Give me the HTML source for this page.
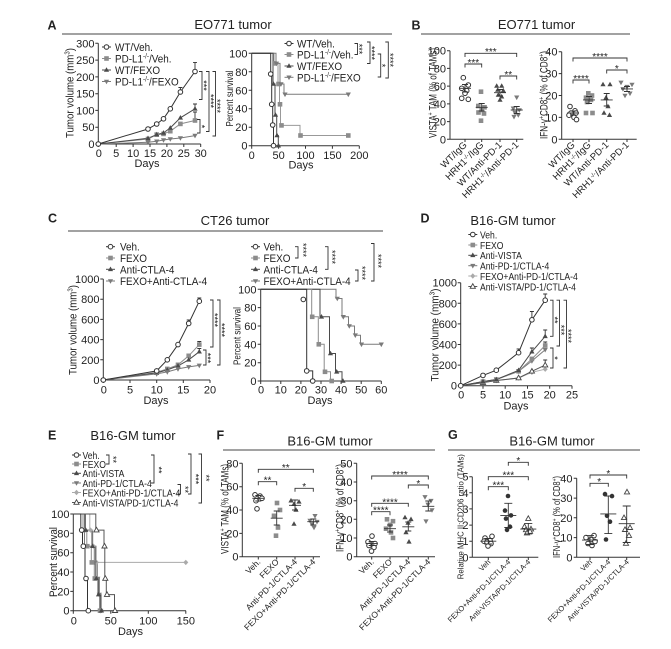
<!DOCTYPE html>
<html><head><meta charset="utf-8"><style>
html,body{margin:0;padding:0;background:#fff}
svg{display:block}
text{font-family:"Liberation Sans",Arial,sans-serif;fill:#222}
.ax{stroke:#333;stroke-width:1;fill:none}
.tk{font-size:11px}
.k{stroke:#333;stroke-width:0.9;fill:none}
.st{font-size:10px}
.sv{font-size:9px}
.cl{font-size:9.5px}
.cf{font-size:8.5px}
.cg{font-size:7.5px}
</style></head><body>
<svg width="671" height="649" viewBox="0 0 671 649" xmlns="http://www.w3.org/2000/svg">
<rect width="671" height="649" fill="#fff"/>
<defs>
<circle id="oc" r="2.3" fill="#fff" stroke="#333" stroke-width="1"/>
<rect id="sq" x="-2.3" y="-2.3" width="4.6" height="4.6" fill="#8c8c8c"/>
<path id="tr" d="M0,-2.8L2.6,1.8H-2.6Z" fill="#4a4a4a"/>
<path id="it" d="M0,2.8L2.6,-1.8H-2.6Z" fill="#7a7a7a"/>
<path id="di" d="M0,-2.7L2.5,0L0,2.7L-2.5,0Z" fill="#aaa"/>
<path id="ot" d="M0,-2.8L2.6,1.8H-2.6Z" fill="#fff" stroke="#444" stroke-width="0.9"/>
<circle id="fc" r="2.3" fill="#333"/>
</defs>

<!-- ================= PANEL A ================= -->
<text x="47.5" y="29.5" font-size="12.5" font-weight="bold">A</text>
<text x="233" y="29" font-size="13" text-anchor="middle">EO771 tumor</text>
<path d="M62,34H392" stroke="#444" stroke-width="1"/>

<!-- A left -->
<path class="ax" d="M98.3,43.3V144H200.7M95.3,43.3H98.3M95.3,60.1H98.3M95.3,76.9H98.3M95.3,93.7H98.3M95.3,110.4H98.3M95.3,127.2H98.3M95.3,144H98.3M98.3,144V147M116.2,144V147M133.1,144V147M150,144V147M166.9,144V147M183.8,144V147M200.7,144V147"/>
<g class="tk" text-anchor="end"><text x="94.5" y="47.3">300</text><text x="94.5" y="64.1">250</text><text x="94.5" y="80.9">200</text><text x="94.5" y="97.7">150</text><text x="94.5" y="114.4">100</text><text x="94.5" y="131.2">50</text><text x="94.5" y="148">0</text></g>
<g class="tk" text-anchor="middle"><text x="98.8" y="157">0</text><text x="116.2" y="157">5</text><text x="133.1" y="157">10</text><text x="150" y="157">15</text><text x="166.9" y="157">20</text><text x="183.8" y="157">25</text><text x="200.7" y="157">30</text></g>
<text x="147" y="167" class="tk" text-anchor="middle">Days</text>
<text transform="translate(73.5,93) rotate(-90)" font-size="11" text-anchor="middle" textLength="90" lengthAdjust="spacingAndGlyphs">Tumor volume (mm<tspan font-size="7" dy="-4">3</tspan><tspan dy="4">)</tspan></text>

<polyline fill="none" stroke="#8c8c8c" points="98.3,144 148,139 156.7,134.6 163.5,133.9 170.3,131.2 180.4,123.9 195,120.5"/>
<polyline fill="none" stroke="#7a7a7a" points="98.3,144 148,142.3 156.7,141.3 163.5,140 170.3,139 180.4,138 195,135.6"/>
<polyline fill="none" stroke="#4a4a4a" points="98.3,144 148,138.3 156.7,134.6 163.5,132.9 170.3,127.9 180.4,117.8 195,108.8"/>
<polyline fill="none" stroke="#333" points="98.3,144 148,129 156.7,124 163.5,118.8 170.3,108.8 180.4,92 195,71.5"/>
<path class="k" d="M195,71.5V62.4M193,62.4H197M180.4,92V87.5M178.4,87.5H182.4M195,120.5V112M193,112H197M195,108.8V104M193,104H197"/>
<g>
<use href="#sq" x="148" y="139"/><use href="#sq" x="156.7" y="134.6"/><use href="#sq" x="163.5" y="133.9"/><use href="#sq" x="170.3" y="131.2"/><use href="#sq" x="180.4" y="123.9"/><use href="#sq" x="195" y="120.5"/>
<use href="#it" x="148" y="142.3"/><use href="#it" x="156.7" y="141.3"/><use href="#it" x="163.5" y="140"/><use href="#it" x="170.3" y="139"/><use href="#it" x="180.4" y="138"/><use href="#it" x="195" y="135.6"/>
<use href="#tr" x="148" y="138.3"/><use href="#tr" x="156.7" y="134.6"/><use href="#tr" x="163.5" y="132.9"/><use href="#tr" x="170.3" y="127.9"/><use href="#tr" x="180.4" y="117.8"/><use href="#tr" x="195" y="108.8"/>
<use href="#oc" x="98.3" y="144"/><use href="#oc" x="148" y="129"/><use href="#oc" x="156.7" y="124"/><use href="#oc" x="163.5" y="118.8"/><use href="#oc" x="170.3" y="108.8"/><use href="#oc" x="180.4" y="92"/><use href="#oc" x="195" y="71.5"/>
</g>
<!-- legend A left -->
<path d="M102,47H111" stroke="#333"/><use href="#oc" x="106.5" y="47"/>
<path d="M102,58.5H111" stroke="#8c8c8c"/><use href="#sq" x="106.5" y="58.5"/>
<path d="M102,70H111" stroke="#4a4a4a"/><use href="#tr" x="106.5" y="70"/>
<path d="M102,81.5H111" stroke="#7a7a7a"/><use href="#it" x="106.5" y="81.5"/>
<g transform="translate(115,0) scale(0.9,1)" font-size="11">
<text x="0" y="51">WT/Veh.</text>
<text x="0" y="62.5">PD-L1<tspan font-size="7" dy="-4">-/-</tspan><tspan dy="4">/Veh.</tspan></text>
<text x="0" y="74">WT/FEXO</text>
<text x="0" y="85.5">PD-L1<tspan font-size="7" dy="-4">-/-</tspan><tspan dy="4">/FEXO</tspan></text>
</g>
<path class="k" d="M199,71.5H202V99.5H199M206,71.5H209V131.5H206M212.5,71.5H215.5V136H212.5M197,119.5H200V133H197"/>
<g class="sv" text-anchor="middle">
<text transform="translate(200.5,85.5) rotate(90)">***</text>
<text transform="translate(207.5,101) rotate(90)">****</text>
<text transform="translate(214,106) rotate(90)">****</text>
<text transform="translate(198.5,126.5) rotate(90)">*</text>
</g>

<!-- A right -->
<path class="ax" d="M251.7,53.3V145.7H359.3M248.7,53.3H251.7M248.7,71.8H251.7M248.7,90.3H251.7M248.7,108.7H251.7M248.7,127.2H251.7M248.7,145.7H251.7M251.7,145.7V148.7M278.6,145.7V148.7M305.5,145.7V148.7M332.4,145.7V148.7M359.3,145.7V148.7"/>
<g class="tk" text-anchor="end"><text x="247.5" y="57.3">100</text><text x="247.5" y="75.8">80</text><text x="247.5" y="94.3">60</text><text x="247.5" y="112.7">40</text><text x="247.5" y="131.2">20</text><text x="247.5" y="149.7">0</text></g>
<g class="tk" text-anchor="middle"><text x="251.7" y="159">0</text><text x="278.6" y="159">50</text><text x="305.5" y="159">100</text><text x="332.4" y="159">150</text><text x="359.3" y="159">200</text></g>
<text x="301" y="168.5" class="tk" text-anchor="middle">Days</text>
<text transform="translate(233,98.5) rotate(-90)" font-size="10.5" text-anchor="middle" textLength="56" lengthAdjust="spacingAndGlyphs">Percent survival</text>

<path fill="none" stroke="#999" d="M251.7,53.3H274V63.4H278V84H279.5V104.3H280.5V125.4H300V135.5H348.3"/>
<path fill="none" stroke="#7a7a7a" d="M251.7,53.3H276V63.4H280V84H284V94.3H348.3"/>
<path fill="none" stroke="#4a4a4a" d="M251.7,53.3H273V84H275V115H276.7V135.5H278.3V145.7"/>
<path fill="none" stroke="#333" d="M251.7,53.3H270.7V74H271.7V104.3H272.7V125H273.5V145.7"/>
<use href="#sq" x="274.5" y="63.4"/><use href="#sq" x="278.5" y="84"/><use href="#sq" x="280" y="104.3"/><use href="#sq" x="281.5" y="125.4"/><use href="#sq" x="300.5" y="135.5"/><use href="#sq" x="348.3" y="135.5"/>
<use href="#it" x="276.5" y="63.4"/><use href="#it" x="281" y="84"/><use href="#it" x="285" y="94.3"/><use href="#it" x="348.3" y="94.3"/>
<use href="#tr" x="273.5" y="84"/><use href="#tr" x="275.5" y="115"/><use href="#tr" x="277" y="135.5"/><use href="#tr" x="278.5" y="145.7"/>
<use href="#oc" x="270.7" y="74"/><use href="#oc" x="271.7" y="104.3"/><use href="#oc" x="272.7" y="125"/><use href="#oc" x="273.5" y="145.7"/>
<!-- legend A right -->
<path d="M284.5,43.5H293.5" stroke="#333"/><use href="#oc" x="289" y="43.5"/>
<path d="M284.5,54.5H293.5" stroke="#8c8c8c"/><use href="#sq" x="289" y="54.5"/>
<path d="M284.5,66H293.5" stroke="#4a4a4a"/><use href="#tr" x="289" y="66"/>
<path d="M284.5,77.3H293.5" stroke="#7a7a7a"/><use href="#it" x="289" y="77.3"/>
<g transform="translate(297,0) scale(0.9,1)" font-size="11">
<text x="0" y="47.5">WT/Veh.</text>
<text x="0" y="58.5">PD-L1<tspan font-size="7" dy="-4">-/-</tspan><tspan dy="4">/Veh.</tspan></text>
<text x="0" y="70">WT/FEXO</text>
<text x="0" y="81.3">PD-L1<tspan font-size="7" dy="-4">-/-</tspan><tspan dy="4">/FEXO</tspan></text>
</g>
<path class="k" d="M354.5,43.5H357.5V54.5H354.5M367,42H370V63.5H367M377.7,54H380.7V77H377.7M385.3,42H388.3V78H385.3"/>
<g class="sv" text-anchor="middle">
<text transform="translate(356,49) rotate(90)">***</text>
<text transform="translate(368.5,53) rotate(90)">****</text>
<text transform="translate(379.2,65.5) rotate(90)">*</text>
<text transform="translate(386.8,60) rotate(90)">****</text>
</g>

<!-- ================= PANEL B ================= -->
<text x="411.5" y="29.5" font-size="12.5" font-weight="bold">B</text>
<text x="536.5" y="29" font-size="13" text-anchor="middle">EO771 tumor</text>
<path d="M421,34H630" stroke="#444" stroke-width="1"/>

<!-- B left -->
<path class="ax" d="M450,50.7V139.3H523.3M447,50.7H450M447,68.4H450M447,86.1H450M447,103.9H450M447,121.6H450M447,139.3H450M465,139.3V142M481.7,139.3V142M500,139.3V142M516.7,139.3V142"/>
<g class="tk" text-anchor="end"><text x="446" y="54.7">100</text><text x="446" y="72.4">80</text><text x="446" y="90.1">60</text><text x="446" y="107.9">40</text><text x="446" y="125.6">20</text><text x="446" y="143.3">0</text></g>
<text transform="translate(436.5,93) rotate(-90)" font-size="11" text-anchor="middle" textLength="90" lengthAdjust="spacingAndGlyphs">VISTA<tspan font-size="7" dy="-4">+</tspan><tspan dy="4"> TAM (% of TAMs)</tspan></text>
<use href="#oc" x="463.3" y="77.7"/><use href="#oc" x="468.3" y="85"/><use href="#oc" x="461.7" y="88.3"/><use href="#oc" x="466.7" y="90.7"/><use href="#oc" x="465" y="93.3"/><use href="#oc" x="461.7" y="98.3"/><use href="#oc" x="468.3" y="99.3"/>
<use href="#sq" x="481" y="91.7"/><use href="#sq" x="478.3" y="106"/><use href="#sq" x="484.5" y="107.3"/><use href="#sq" x="481.7" y="110"/><use href="#sq" x="478.5" y="112.5"/><use href="#sq" x="484" y="113.5"/><use href="#sq" x="481" y="120.7"/>
<use href="#tr" x="496.7" y="86"/><use href="#tr" x="501.7" y="86"/><use href="#tr" x="497.7" y="90"/><use href="#tr" x="503.3" y="90.7"/><use href="#tr" x="498.3" y="95"/><use href="#tr" x="501.7" y="96.7"/><use href="#tr" x="500" y="100"/>
<use href="#it" x="516.7" y="97.3"/><use href="#it" x="513.3" y="108.3"/><use href="#it" x="519.3" y="110"/><use href="#it" x="515" y="112.7"/><use href="#it" x="518.3" y="115"/><use href="#it" x="514" y="116.7"/>
<path class="k" d="M459,88.3H471M465,84.5V92M462,84.5H468M462,92H468M475.7,107.3H487.7M481.7,103.5V111M478.7,103.5H484.7M478.7,111H484.7M494,92.7H506M500,89.5V96M497,89.5H503M497,96H503M510.7,110H522.7M516.7,106.5V113.5M513.7,106.5H519.7M513.7,113.5H519.7"/>
<path class="k" d="M465,57V53.3H516.7V57M465,67.5V64H481.7V67.5M500,79.5V76H516.7V79.5"/>
<g class="st" text-anchor="middle"><text x="490.8" y="55">***</text><text x="473.3" y="66">***</text><text x="508.3" y="78">**</text></g>
<g class="cl" text-anchor="end">
<text transform="translate(467.5,145.5) rotate(-45)">WT/IgG</text>
<text transform="translate(484.2,145.5) rotate(-45)">HRH1<tspan font-size="6" dy="-3">-/-</tspan><tspan dy="3">/IgG</tspan></text>
<text transform="translate(502.5,145.5) rotate(-45)">WT/Anti-PD-1</text>
<text transform="translate(519.2,145.5) rotate(-45)">HRH1<tspan font-size="6" dy="-3">-/-</tspan><tspan dy="3">/Anti-PD-1</tspan></text>
</g>

<!-- B right -->
<path class="ax" d="M561.7,51.7V139.3H636.7M558.7,51.7H561.7M558.7,73.6H561.7M558.7,95.5H561.7M558.7,117.4H561.7M558.7,139.3H561.7M573,139.3V142M589,139.3V142M606.7,139.3V142M627,139.3V142"/>
<g class="tk" text-anchor="end"><text x="557.5" y="55.7">40</text><text x="557.5" y="77.6">30</text><text x="557.5" y="99.5">20</text><text x="557.5" y="121.4">10</text><text x="557.5" y="143.3">0</text></g>
<text transform="translate(547.5,95) rotate(-90)" font-size="11" text-anchor="middle" textLength="88" lengthAdjust="spacingAndGlyphs">IFN-γ<tspan font-size="7" dy="-4">+</tspan><tspan dy="4">CD8</tspan><tspan font-size="7" dy="-4">+</tspan><tspan dy="4"> (% of CD8</tspan><tspan font-size="7" dy="-4">+</tspan><tspan dy="4">)</tspan></text>
<use href="#oc" x="570" y="106.5"/><use href="#oc" x="575" y="110.8"/><use href="#oc" x="571" y="113"/><use href="#oc" x="576" y="113"/><use href="#oc" x="569" y="115.2"/><use href="#oc" x="574" y="117.4"/><use href="#oc" x="576.5" y="119.6"/>
<use href="#sq" x="588.3" y="93.3"/><use href="#sq" x="592" y="95.5"/><use href="#sq" x="586" y="97.7"/><use href="#sq" x="591" y="99.9"/><use href="#sq" x="587" y="102"/><use href="#sq" x="586" y="113"/><use href="#sq" x="592.5" y="113"/>
<use href="#tr" x="603" y="84.5"/><use href="#tr" x="610" y="84.5"/><use href="#tr" x="606" y="97.7"/><use href="#tr" x="608" y="106.5"/><use href="#tr" x="604" y="113"/><use href="#tr" x="609.5" y="115.2"/>
<use href="#it" x="621" y="82.4"/><use href="#it" x="632" y="84.5"/><use href="#it" x="627" y="86.7"/><use href="#it" x="623" y="88.9"/><use href="#it" x="630" y="93.3"/><use href="#it" x="625" y="95.5"/>
<path class="k" d="M567,113H579M573,111V115M570,111H576M570,115H576M583,99.9H595M589,96.5V103.5M586,96.5H592M586,103.5H592M600.7,99.9H612.7M606.7,93.5V106M603.7,93.5H609.7M603.7,106H609.7M621,88.9H633M627,86.5V91.5M624,86.5H630M624,91.5H630"/>
<path class="k" d="M573,61.5V58H627V61.5M573,83.5V80H589V83.5M606.7,73.5V70H627V73.5"/>
<g class="st" text-anchor="middle"><text x="600" y="60">****</text><text x="581" y="82">****</text><text x="616.8" y="72">*</text></g>
<g class="cl" text-anchor="end">
<text transform="translate(575.5,145.5) rotate(-45)">WT/IgG</text>
<text transform="translate(591.5,145.5) rotate(-45)">HRH1<tspan font-size="6" dy="-3">-/-</tspan><tspan dy="3">/IgG</tspan></text>
<text transform="translate(609.2,145.5) rotate(-45)">WT/Anti-PD-1</text>
<text transform="translate(629.5,145.5) rotate(-45)">HRH1<tspan font-size="6" dy="-3">-/-</tspan><tspan dy="3">/Anti-PD-1</tspan></text>
</g>

<!-- ================= PANEL C ================= -->
<text x="48" y="222.5" font-size="12.5" font-weight="bold">C</text>
<text x="235" y="225" font-size="13" text-anchor="middle">CT26 tumor</text>
<path d="M68,231H383" stroke="#444" stroke-width="1"/>

<!-- C left -->
<path class="ax" d="M103.3,279V380H210M100.3,279H103.3M100.3,299.2H103.3M100.3,319.4H103.3M100.3,339.6H103.3M100.3,359.8H103.3M100.3,380H103.3M103.3,380V383M130,380V383M156.7,380V383M183.3,380V383M210,380V383"/>
<g class="tk" text-anchor="end"><text x="99.5" y="283">1000</text><text x="99.5" y="303.2">800</text><text x="99.5" y="323.4">600</text><text x="99.5" y="343.6">400</text><text x="99.5" y="363.8">200</text><text x="99.5" y="384">0</text></g>
<g class="tk" text-anchor="middle"><text x="103.8" y="393.5">0</text><text x="130" y="393.5">5</text><text x="156.7" y="393.5">10</text><text x="183.3" y="393.5">15</text><text x="210" y="393.5">20</text></g>
<text x="156" y="404" class="tk" text-anchor="middle">Days</text>
<text transform="translate(76.5,330) rotate(-90)" font-size="11" text-anchor="middle" textLength="90" lengthAdjust="spacingAndGlyphs">Tumor volume (mm<tspan font-size="7" dy="-4">3</tspan><tspan dy="4">)</tspan></text>
<polyline fill="none" stroke="#8c8c8c" points="103.3,380 156.7,372.4 167.3,368.9 178,364.8 188.7,355.8 199.3,344.6"/>
<polyline fill="none" stroke="#4a4a4a" points="103.3,380 156.7,372.9 167.3,369.9 178,365.9 188.7,359.8 199.3,351.7"/>
<polyline fill="none" stroke="#7a7a7a" points="103.3,380 156.7,373.9 167.3,371.9 178,368.9 188.7,366.9 199.3,365.4"/>
<polyline fill="none" stroke="#333" points="103.3,380 156.7,370.9 167.3,359.8 178,344.6 188.7,323.4 199.3,301.2"/>
<path class="k" d="M199.3,301.2V298M197.3,298H201.3M188.7,323.4V320M186.7,320H190.7M199.3,344.6V341.5M197.3,341.5H201.3M199.3,351.7V348.5M197.3,348.5H201.3"/>
<use href="#sq" x="156.7" y="372.4"/><use href="#sq" x="167.3" y="368.9"/><use href="#sq" x="178" y="364.8"/><use href="#sq" x="188.7" y="355.8"/><use href="#sq" x="199.3" y="344.6"/>
<use href="#tr" x="156.7" y="372.9"/><use href="#tr" x="167.3" y="369.9"/><use href="#tr" x="178" y="365.9"/><use href="#tr" x="188.7" y="359.8"/><use href="#tr" x="199.3" y="351.7"/>
<use href="#it" x="156.7" y="373.9"/><use href="#it" x="167.3" y="371.9"/><use href="#it" x="178" y="368.9"/><use href="#it" x="188.7" y="366.9"/><use href="#it" x="199.3" y="365.4"/>
<use href="#oc" x="103.3" y="380"/><use href="#oc" x="156.7" y="370.9"/><use href="#oc" x="167.3" y="359.8"/><use href="#oc" x="178" y="344.6"/><use href="#oc" x="188.7" y="323.4"/><use href="#oc" x="199.3" y="301.2"/>
<path d="M106,246.7H115" stroke="#333"/><use href="#oc" x="110.5" y="246.7"/>
<path d="M106,258H115" stroke="#8c8c8c"/><use href="#sq" x="110.5" y="258"/>
<path d="M106,269.3H115" stroke="#4a4a4a"/><use href="#tr" x="110.5" y="269.3"/>
<path d="M106,281H115" stroke="#7a7a7a"/><use href="#it" x="110.5" y="281"/>
<g transform="translate(120,0) scale(0.9,1)" font-size="11">
<text x="0" y="250.7">Veh.</text><text x="0" y="262">FEXO</text><text x="0" y="273.3">Anti-CTLA-4</text><text x="0" y="285">FEXO+Anti-CTLA-4</text>
</g>
<path class="k" d="M210,300H213V347H210M217,300H220V365H217M203,350H206V365H203"/>
<g class="sv" text-anchor="middle">
<text transform="translate(211.5,320) rotate(90)">****</text>
<text transform="translate(218.5,330) rotate(90)">****</text>
<text transform="translate(204.5,358) rotate(90)">***</text>
</g>

<!-- C right -->
<path class="ax" d="M260.7,289.3V381H381.3M257.7,289.3H260.7M257.7,307.6H260.7M257.7,326H260.7M257.7,344.3H260.7M257.7,362.7H260.7M257.7,381H260.7M260.7,381V384M280.8,381V384M300.9,381V384M321,381V384M341.1,381V384M361.2,381V384M381.3,381V384"/>
<g class="tk" text-anchor="end"><text x="256.5" y="293.3">100</text><text x="256.5" y="311.6">80</text><text x="256.5" y="330">60</text><text x="256.5" y="348.3">40</text><text x="256.5" y="366.7">20</text><text x="256.5" y="385">0</text></g>
<g class="tk" text-anchor="middle"><text x="261" y="393.5">0</text><text x="280.8" y="393.5">10</text><text x="300.9" y="393.5">20</text><text x="321" y="393.5">30</text><text x="341.1" y="393.5">40</text><text x="361.2" y="393.5">50</text><text x="381.3" y="393.5">60</text></g>
<text x="320" y="404" class="tk" text-anchor="middle">Days</text>
<text transform="translate(240.5,336) rotate(-90)" font-size="10.5" text-anchor="middle" textLength="58" lengthAdjust="spacingAndGlyphs">Percent survival</text>
<path fill="none" stroke="#7a7a7a" d="M260.7,289.3H336V298.5H342V316.8H348.5V326H354.5V335.2H360.5V344.3H381.7"/>
<path fill="none" stroke="#4a4a4a" d="M260.7,289.3H320V316.8H329.5V353.5H335.5V371.8H342V381"/>
<path fill="none" stroke="#8c8c8c" d="M260.7,289.3H311.7V316.8H318.3V344.3H324.2V371.8H330.5V381"/>
<path fill="none" stroke="#333" d="M260.7,289.3H306.7V370.9H312.7V381"/>
<use href="#it" x="337.3" y="298.5"/><use href="#it" x="343.3" y="316.8"/><use href="#it" x="349.3" y="326"/><use href="#it" x="355.3" y="335.2"/><use href="#it" x="361.5" y="344.3"/><use href="#it" x="381.3" y="344.3"/>
<use href="#tr" x="321.5" y="316.8"/><use href="#tr" x="330.5" y="353.5"/><use href="#tr" x="336.7" y="371.8"/><use href="#tr" x="343" y="381"/>
<use href="#sq" x="312.2" y="316.8"/><use href="#sq" x="318.8" y="344.3"/><use href="#sq" x="325" y="371.8"/><use href="#sq" x="331.7" y="381"/>
<use href="#oc" x="303.3" y="299.4"/><use href="#oc" x="306.7" y="370.9"/><use href="#oc" x="312.7" y="381"/>
<path d="M251,246.7H260" stroke="#333"/><use href="#oc" x="255.5" y="246.7"/>
<path d="M251,258H260" stroke="#8c8c8c"/><use href="#sq" x="255.5" y="258"/>
<path d="M251,269.3H260" stroke="#4a4a4a"/><use href="#tr" x="255.5" y="269.3"/>
<path d="M251,281H260" stroke="#7a7a7a"/><use href="#it" x="255.5" y="281"/>
<g transform="translate(263.5,0) scale(0.9,1)" font-size="11">
<text x="0" y="250.7">Veh.</text><text x="0" y="262">FEXO</text><text x="0" y="273.3">Anti-CTLA-4</text><text x="0" y="285">FEXO+Anti-CTLA-4</text>
</g>
<path class="k" d="M295,246.7H298V258H295M325,246.7H328V269.3H325M355,270H358V281H355M371,243.5H374V281H371"/>
<g class="sv" text-anchor="middle">
<text transform="translate(300,250) rotate(90)">****</text>
<text transform="translate(329,257) rotate(90)">****</text>
<text transform="translate(359,273) rotate(90)">****</text>
<text transform="translate(375,261) rotate(90)">****</text>
</g>

<!-- ================= PANEL D ================= -->
<text x="420.5" y="222.5" font-size="12.5" font-weight="bold">D</text>
<text x="513" y="225" font-size="13" text-anchor="middle">B16-GM tumor</text>
<path d="M468.3,234.5H477.3" stroke="#333"/><use href="#oc" x="472.8" y="234.5"/>
<path d="M468.3,245H477.3" stroke="#8c8c8c"/><use href="#sq" x="472.8" y="245"/>
<path d="M468.3,255.3H477.3" stroke="#4a4a4a"/><use href="#tr" x="472.8" y="255.3"/>
<path d="M468.3,265.7H477.3" stroke="#7a7a7a"/><use href="#it" x="472.8" y="265.7"/>
<path d="M468.3,276H477.3" stroke="#aaa"/><use href="#di" x="472.8" y="276"/>
<path d="M468.3,286.5H477.3" stroke="#555"/><use href="#ot" x="472.8" y="286.5"/>
<g transform="translate(480,0) scale(0.82,1)" font-size="10.5">
<text x="0" y="238.3">Veh.</text><text x="0" y="248.8">FEXO</text><text x="0" y="259.1">Anti-VISTA</text><text x="0" y="269.5">Anti-PD-1/CTLA-4</text><text x="0" y="279.8">FEXO+Anti-PD-1/CTLA-4</text><text x="0" y="290.3">Anti-VISTA/PD-1/CTLA-4</text>
</g>
<path class="ax" d="M460.7,282.7V385.7H572M457.7,282.7H460.7M457.7,303.3H460.7M457.7,323.9H460.7M457.7,344.5H460.7M457.7,365.1H460.7M457.7,385.7H460.7M460.7,385.7V388.7M483,385.7V388.7M505.2,385.7V388.7M527.5,385.7V388.7M549.7,385.7V388.7M572,385.7V388.7"/>
<g class="tk" text-anchor="end"><text x="457" y="286.7">1000</text><text x="457" y="307.3">800</text><text x="457" y="327.9">600</text><text x="457" y="348.5">400</text><text x="457" y="369.1">200</text><text x="457" y="389.7">0</text></g>
<g class="tk" text-anchor="middle"><text x="461.2" y="398.5">0</text><text x="483" y="398.5">5</text><text x="505.2" y="398.5">10</text><text x="527.5" y="398.5">15</text><text x="549.7" y="398.5">20</text><text x="572" y="398.5">25</text></g>
<text x="516" y="409.5" class="tk" text-anchor="middle">Days</text>
<text transform="translate(438.5,335) rotate(-90)" font-size="11" text-anchor="middle" textLength="93" lengthAdjust="spacingAndGlyphs">Tumor volume (mm<tspan font-size="7" dy="-4">3</tspan><tspan dy="4">)</tspan></text>
<polyline fill="none" stroke="#aaa" points="460.7,385.7 483,382.6 496.3,380.5 518.6,378 531.9,372.3 545.2,369.2"/>
<polyline fill="none" stroke="#555" points="460.7,385.7 483,382.6 496.3,380.5 518.6,378 531.9,371.3 545.2,365.1"/>
<polyline fill="none" stroke="#7a7a7a" points="460.7,385.7 483,381.6 496.3,379.5 518.6,371.3 531.9,361 545.2,349.7"/>
<polyline fill="none" stroke="#8c8c8c" points="460.7,385.7 483,381.6 496.3,379.5 518.6,371.3 531.9,358.9 545.2,345.5"/>
<polyline fill="none" stroke="#4a4a4a" points="460.7,385.7 483,381.6 496.3,379.5 518.6,370.3 531.9,351.7 545.2,336.3"/>
<polyline fill="none" stroke="#333" points="460.7,385.7 483,375.4 496.3,370.2 518.6,352.7 531.9,319.8 545.2,300.2"/>
<path class="k" d="M545.2,300.2V294M543.2,294H547.2M531.9,319.8V311.5M529.9,311.5H533.9M518.6,352.7V349M516.6,349H520.6M545.2,336.3V330M543.2,330H547.2M531.9,351.7V348M529.9,348H533.9M545.2,345.5V342M543.2,342H547.2M545.2,365.1V360M543.2,360H547.2"/>
<use href="#di" x="483" y="382.6"/><use href="#di" x="496.3" y="380.5"/><use href="#di" x="518.6" y="378"/><use href="#di" x="531.9" y="372.3"/><use href="#di" x="545.2" y="369.2"/>
<use href="#ot" x="483" y="382.6"/><use href="#ot" x="496.3" y="380.5"/><use href="#ot" x="518.6" y="378"/><use href="#ot" x="531.9" y="371.3"/><use href="#ot" x="545.2" y="365.1"/>
<use href="#it" x="483" y="381.6"/><use href="#it" x="496.3" y="379.5"/><use href="#it" x="518.6" y="371.3"/><use href="#it" x="531.9" y="361"/><use href="#it" x="545.2" y="349.7"/>
<use href="#sq" x="483" y="381.6"/><use href="#sq" x="496.3" y="379.5"/><use href="#sq" x="518.6" y="371.3"/><use href="#sq" x="531.9" y="358.9"/><use href="#sq" x="545.2" y="345.5"/>
<use href="#tr" x="483" y="381.6"/><use href="#tr" x="496.3" y="379.5"/><use href="#tr" x="518.6" y="370.3"/><use href="#tr" x="531.9" y="351.7"/><use href="#tr" x="545.2" y="336.3"/>
<use href="#oc" x="460.7" y="385.7"/><use href="#oc" x="483" y="375.4"/><use href="#oc" x="496.3" y="370.2"/><use href="#oc" x="518.6" y="352.7"/><use href="#oc" x="531.9" y="319.8"/><use href="#oc" x="545.2" y="300.2"/>
<path class="k" d="M550,300.2H553V336.3H550M556.5,300.2H559.5V346H556.5M563.5,300.2H566.5V368H563.5M550,348H553V368H550"/>
<g class="sv" text-anchor="middle">
<text transform="translate(551.5,320) rotate(90)">**</text>
<text transform="translate(558,330) rotate(90)">***</text>
<text transform="translate(565,336) rotate(90)">****</text>
<text transform="translate(551.5,358) rotate(90)">*</text>
</g>

<!-- ================= PANEL E ================= -->
<text x="48" y="439.5" font-size="12.5" font-weight="bold">E</text>
<text x="133" y="440" font-size="13" text-anchor="middle">B16-GM tumor</text>
<path d="M72,455H81" stroke="#333"/><use href="#oc" x="76.5" y="455"/>
<path d="M72,464H81" stroke="#8c8c8c"/><use href="#sq" x="76.5" y="464"/>
<path d="M72,473.3H81" stroke="#4a4a4a"/><use href="#tr" x="76.5" y="473.3"/>
<path d="M72,483H81" stroke="#7a7a7a"/><use href="#it" x="76.5" y="483"/>
<path d="M72,492.5H81" stroke="#aaa"/><use href="#di" x="76.5" y="492.5"/>
<path d="M72,502.5H81" stroke="#555"/><use href="#ot" x="76.5" y="502.5"/>
<g transform="translate(82.5,0) scale(0.82,1)" font-size="10.5">
<text x="0" y="458.8">Veh.</text><text x="0" y="467.8">FEXO</text><text x="0" y="477.1">Anti-VISTA</text><text x="0" y="486.8">Anti-PD-1/CTLA-4</text><text x="0" y="496.3">FEXO+Anti-PD-1/CTLA-4</text><text x="0" y="506.3">Anti-VISTA/PD-1/CTLA-4</text>
</g>
<path class="k" d="M106,455H109V464H106M151,455H154V483H151M177.5,484.5H180.5V494H177.5M188,454H191V494H188M198.5,454H201.5V503H198.5"/>
<g class="sv" text-anchor="middle">
<text transform="translate(110,459.5) rotate(90)">**</text>
<text transform="translate(155.5,470) rotate(90)">**</text>
<text transform="translate(182,489.5) rotate(90)">**</text>
<text transform="translate(192.5,479) rotate(90)">***</text>
<text transform="translate(203,478) rotate(90)">**</text>
</g>
<path class="ax" d="M73.3,514V610.7H186M70.3,514H73.3M70.3,533.3H73.3M70.3,552.7H73.3M70.3,572H73.3M70.3,591.4H73.3M70.3,610.7H73.3M73.3,610.7V613.7M110.8,610.7V613.7M148.3,610.7V613.7M185.8,610.7V613.7"/>
<g class="tk" text-anchor="end"><text x="69.5" y="518">100</text><text x="69.5" y="537.3">80</text><text x="69.5" y="556.7">60</text><text x="69.5" y="576">40</text><text x="69.5" y="595.4">20</text><text x="69.5" y="614.7">0</text></g>
<g class="tk" text-anchor="middle"><text x="73.8" y="624.5">0</text><text x="110.8" y="624.5">50</text><text x="148.3" y="624.5">100</text><text x="185.8" y="624.5">150</text></g>
<text x="130.5" y="635" class="tk" text-anchor="middle">Days</text>
<text transform="translate(57,562) rotate(-90)" font-size="11" text-anchor="middle" textLength="70" lengthAdjust="spacingAndGlyphs">Percent survival</text>
<path fill="none" stroke="#aaa" d="M73.3,514H89.8V530.1H92.8V546.2H95.8V562.4H185.8"/>
<path fill="none" stroke="#7a7a7a" d="M73.3,514H84.5V546.2H94.3V562.4H97.3V578.5H98.8V594.6H100.3V610.7"/>
<path fill="none" stroke="#8c8c8c" d="M73.3,514H83V530.1H86.8V546.2H91.3V562.4H94.3V578.5H99.5V610.7"/>
<path fill="none" stroke="#4a4a4a" d="M73.3,514H85.3V530.1H92V546.2H95.8V578.5H98V594.6H101V610.7"/>
<path fill="none" stroke="#555" d="M73.3,514H95.8V530.1H104V546.2H104.8V578.5H106.3V594.6H114.5V610.7"/>
<path fill="none" stroke="#333" d="M73.3,514H80.8V530.1H82.5V546.2H85V578.5H87.5V610.7"/>
<use href="#di" x="90.5" y="530.1"/><use href="#di" x="93.5" y="546.2"/><use href="#di" x="96.5" y="562.4"/><use href="#di" x="185.8" y="562.4"/>
<use href="#it" x="85" y="546.2"/><use href="#it" x="94.8" y="562.4"/><use href="#it" x="97.8" y="578.5"/><use href="#it" x="99.3" y="594.6"/><use href="#it" x="100.8" y="610.7"/>
<use href="#sq" x="83.5" y="530.1"/><use href="#sq" x="87.3" y="546.2"/><use href="#sq" x="91.8" y="562.4"/><use href="#sq" x="94.8" y="578.5"/><use href="#sq" x="100" y="610.7"/>
<use href="#tr" x="85.8" y="530.1"/><use href="#tr" x="92.5" y="546.2"/><use href="#tr" x="96.3" y="578.5"/><use href="#tr" x="98.5" y="594.6"/><use href="#tr" x="101.5" y="610.7"/>
<use href="#ot" x="96.5" y="530.1"/><use href="#ot" x="104.5" y="546.2"/><use href="#ot" x="105.3" y="578.5"/><use href="#ot" x="107" y="594.6"/><use href="#ot" x="115" y="610.7"/>
<use href="#oc" x="81.7" y="530.1"/><use href="#oc" x="83.3" y="546.2"/><use href="#oc" x="86" y="578.5"/><use href="#oc" x="88.3" y="610.7"/>

<!-- ================= PANEL F ================= -->
<text x="216.5" y="439.5" font-size="12.5" font-weight="bold">F</text>
<text x="330" y="445.5" font-size="13" text-anchor="middle">B16-GM tumor</text>
<path d="M223,450H435" stroke="#444" stroke-width="1"/>

<!-- F left -->
<path class="ax" d="M242.3,463.3V556.7H320M239.3,463.3H242.3M239.3,486.7H242.3M239.3,510H242.3M239.3,533.4H242.3M239.3,556.7H242.3M258.3,556.7V559.5M276.7,556.7V559.5M295,556.7V559.5M313.3,556.7V559.5"/>
<g class="tk" text-anchor="end"><text x="238.5" y="467.3">80</text><text x="238.5" y="490.7">60</text><text x="238.5" y="514">40</text><text x="238.5" y="537.4">20</text><text x="238.5" y="560.7">0</text></g>
<text transform="translate(228.5,509) rotate(-90)" font-size="11" text-anchor="middle" textLength="90" lengthAdjust="spacingAndGlyphs">VISTA<tspan font-size="7" dy="-4">+</tspan><tspan dy="4"> TAM (% of TAMs)</tspan></text>
<use href="#oc" x="255" y="494.8"/><use href="#oc" x="260" y="496"/><use href="#oc" x="262" y="498.3"/><use href="#oc" x="256" y="500.7"/><use href="#oc" x="257" y="508.8"/>
<use href="#sq" x="277" y="503"/><use href="#sq" x="280" y="510"/><use href="#sq" x="274" y="515.8"/><use href="#sq" x="278" y="527.5"/><use href="#sq" x="276" y="535.7"/>
<use href="#tr" x="291" y="500.7"/><use href="#tr" x="299" y="501.8"/><use href="#tr" x="294" y="504.2"/><use href="#tr" x="296" y="510"/><use href="#tr" x="294" y="524"/>
<use href="#it" x="315" y="515.8"/><use href="#it" x="310" y="520.5"/><use href="#it" x="317" y="521.7"/><use href="#it" x="312" y="524"/><use href="#it" x="314" y="527.5"/>
<path class="k" d="M252.3,498.3H264.3M258.3,495.5V501M255.3,495.5H261.3M255.3,501H261.3M270.7,518.2H282.7M276.7,511V525M273.7,511H279.7M273.7,525H279.7M289,505.3H301M295,500V510M292,500H298M292,510H298M307.3,521.7H319.3M313.3,519V525M310.3,519H316.3M310.3,525H316.3"/>
<path class="k" d="M258.3,472.8V469.3H313.3V472.8M258.3,485.2V481.7H276.7V485.2M295,491.8V488.3H313.3V491.8"/>
<g class="st" text-anchor="middle"><text x="285.8" y="471">**</text><text x="267.5" y="483.5">**</text><text x="304.2" y="490">*</text></g>
<g class="cf" text-anchor="end">
<text transform="translate(261,562.5) rotate(-45)">Veh.</text>
<text transform="translate(279.4,562.5) rotate(-45)">FEXO</text>
<text transform="translate(297.7,562.5) rotate(-45)">Anti-PD-1/CTLA-4</text>
<text transform="translate(316,562.5) rotate(-45)">FEXO+Anti-PD-1/CTLA-4</text>
</g>

<!-- F right -->
<path class="ax" d="M356.7,463.3V556.7H435M353.7,463.3H356.7M353.7,482H356.7M353.7,500.7H356.7M353.7,519.3H356.7M353.7,538H356.7M353.7,556.7H356.7M371.7,556.7V559.5M390,556.7V559.5M408.3,556.7V559.5M428.3,556.7V559.5"/>
<g class="tk" text-anchor="end"><text x="352.5" y="467.3">50</text><text x="352.5" y="486">40</text><text x="352.5" y="504.7">30</text><text x="352.5" y="523.3">20</text><text x="352.5" y="542">10</text><text x="352.5" y="560.7">0</text></g>
<text transform="translate(343.5,508) rotate(-90)" font-size="11" text-anchor="middle" textLength="88" lengthAdjust="spacingAndGlyphs">IFN-γ<tspan font-size="7" dy="-4">+</tspan><tspan dy="4">CD8</tspan><tspan font-size="7" dy="-4">+</tspan><tspan dy="4"> (% of CD8</tspan><tspan font-size="7" dy="-4">+</tspan><tspan dy="4">)</tspan></text>
<use href="#oc" x="372" y="536.1"/><use href="#oc" x="368" y="541.8"/><use href="#oc" x="375" y="543.6"/><use href="#oc" x="369" y="545.5"/><use href="#oc" x="374" y="547.4"/><use href="#oc" x="371.5" y="551.1"/>
<use href="#sq" x="387" y="519.3"/><use href="#sq" x="393" y="521.2"/><use href="#sq" x="390" y="524.9"/><use href="#sq" x="386" y="528.7"/><use href="#sq" x="391" y="532.4"/><use href="#sq" x="393" y="538"/>
<use href="#tr" x="405" y="517.5"/><use href="#tr" x="411" y="519.3"/><use href="#tr" x="408" y="523"/><use href="#tr" x="406" y="532.4"/><use href="#tr" x="409" y="541.8"/>
<use href="#it" x="425" y="496.9"/><use href="#it" x="431" y="500.7"/><use href="#it" x="428" y="504.4"/><use href="#it" x="432" y="510"/><use href="#it" x="426" y="521.2"/>
<path class="k" d="M365.7,543.6H377.7M371.7,541.5V545.5M368.7,541.5H374.7M368.7,545.5H374.7M384,528.7H396M390,525V532M387,525H393M387,532H393M402.3,526.8H414.3M408.3,522V531M405.3,522H411.3M405.3,531H411.3M422.3,506.3H434.3M428.3,501V511M425.3,501H431.3M425.3,511H431.3"/>
<path class="k" d="M371.7,479.5V476H428.3V479.5M371.7,506.8V503.3H408.3V506.8M371.7,515.2V511.7H390V515.2M408.3,488.5V485H428.3V488.5"/>
<g class="st" text-anchor="middle"><text x="400" y="478">****</text><text x="390" y="505.3">****</text><text x="380.8" y="513.7">****</text><text x="418.3" y="487">*</text></g>
<g class="cf" text-anchor="end">
<text transform="translate(374.4,562.5) rotate(-45)">Veh.</text>
<text transform="translate(392.7,562.5) rotate(-45)">FEXO</text>
<text transform="translate(411,562.5) rotate(-45)">Anti-PD-1/CTLA-4</text>
<text transform="translate(431,562.5) rotate(-45)">FEXO+Anti-PD-1/CTLA-4</text>
</g>

<!-- ================= PANEL G ================= -->
<text x="448" y="439" font-size="12.5" font-weight="bold">G</text>
<text x="552" y="445.5" font-size="13" text-anchor="middle">B16-GM tumor</text>
<path d="M448,450H640" stroke="#444" stroke-width="1"/>

<!-- G left -->
<path class="ax" d="M472.3,476.7V557.3H538.3M469.3,476.7H472.3M469.3,492.8H472.3M469.3,508.9H472.3M469.3,525.1H472.3M469.3,541.2H472.3M469.3,557.3H472.3M488.3,557.3V560M508.3,557.3V560M528.3,557.3V560"/>
<g class="tk" text-anchor="end"><text x="468.5" y="480.7">5</text><text x="468.5" y="496.8">4</text><text x="468.5" y="512.9">3</text><text x="468.5" y="529.1">2</text><text x="468.5" y="545.2">1</text><text x="468.5" y="561.3">0</text></g>
<text transform="translate(463.5,516.7) rotate(-90)" font-size="8.5" text-anchor="middle" textLength="125" lengthAdjust="spacingAndGlyphs">Relative MHC II:CD206 ratio (TAMs)</text>
<use href="#oc" x="492" y="536.3"/><use href="#oc" x="485" y="538"/><use href="#oc" x="490" y="540.4"/><use href="#oc" x="484" y="541.2"/><use href="#oc" x="487" y="542"/><use href="#oc" x="491" y="543.6"/><use href="#oc" x="488" y="546"/>
<use href="#fc" x="508" y="496"/><use href="#fc" x="505" y="510.6"/><use href="#fc" x="511" y="515.4"/><use href="#fc" x="506" y="518.6"/><use href="#fc" x="510" y="526.7"/><use href="#fc" x="507" y="529.9"/>
<use href="#ot" x="528.3" y="518.6"/><use href="#ot" x="524.5" y="526.7"/><use href="#ot" x="531" y="529.1"/><use href="#ot" x="526" y="529.9"/><use href="#ot" x="530" y="531.5"/><use href="#ot" x="527" y="533.1"/>
<path class="k" d="M480.3,541.2H496.3M488.3,538.5V544M484.3,538.5H492.3M484.3,544H492.3M500.3,515.4H516.3M508.3,503.3V527.5M504.3,503.3H512.3M504.3,527.5H512.3M520.3,529.1H536.3M528.3,523.4V533.9M524.3,523.4H532.3M524.3,533.9H532.3"/>
<path class="k" d="M488.3,480.2V476.7H528.3V480.2M488.3,490.2V486.7H508.3V490.2M508.3,465.8V462.3H528.3V465.8"/>
<g class="st" text-anchor="middle"><text x="508.3" y="478.5">***</text><text x="498.3" y="488.5">***</text><text x="518.3" y="464">*</text></g>
<g class="cg" text-anchor="end">
<text transform="translate(491,562.5) rotate(-45)">Veh</text>
<text transform="translate(511,562.5) rotate(-45)">FEXO+Anti-PD-1/CTLA-4</text>
<text transform="translate(531,562.5) rotate(-45)">Anti-VISTA/PD-1/CTLA-4</text>
</g>

<!-- G right -->
<path class="ax" d="M576.7,478.3V557.3H640M573.7,478.3H576.7M573.7,498.1H576.7M573.7,517.8H576.7M573.7,537.6H576.7M573.7,557.3H576.7M590,557.3V560M608.3,557.3V560M626.7,557.3V560"/>
<g class="tk" text-anchor="end"><text x="572.5" y="482.3">40</text><text x="572.5" y="502.1">30</text><text x="572.5" y="521.8">20</text><text x="572.5" y="541.6">10</text><text x="572.5" y="561.3">0</text></g>
<text transform="translate(560,517) rotate(-90)" font-size="10" text-anchor="middle" textLength="82" lengthAdjust="spacingAndGlyphs">IFN-γ<tspan font-size="6.5" dy="-3.5">+</tspan><tspan dy="3.5">CD8</tspan><tspan font-size="6.5" dy="-3.5">+</tspan><tspan dy="3.5"> (% of CD8</tspan><tspan font-size="6.5" dy="-3.5">+</tspan><tspan dy="3.5">)</tspan></text>
<use href="#oc" x="594" y="535.6"/><use href="#oc" x="586" y="537.6"/><use href="#oc" x="591" y="539.5"/><use href="#oc" x="595" y="541.5"/><use href="#oc" x="588" y="543.5"/><use href="#oc" x="592" y="545.5"/>
<use href="#fc" x="605" y="494.1"/><use href="#fc" x="612" y="496.1"/><use href="#fc" x="607" y="515.8"/><use href="#fc" x="610" y="521.7"/><use href="#fc" x="606" y="539.5"/>
<use href="#ot" x="627" y="492.1"/><use href="#ot" x="624" y="517.8"/><use href="#ot" x="630" y="527.7"/><use href="#ot" x="625" y="529.7"/><use href="#ot" x="629" y="535.6"/><use href="#ot" x="626" y="543.5"/>
<path class="k" d="M582,540.1H598M590,535.6V544.5M586,535.6H594M586,544.5H594M600.3,513.9H616.3M608.3,496V533.6M604.3,496H612.3M604.3,533.6H612.3M618.7,523.7H634.7M626.7,506V542.5M622.7,506H630.7M622.7,542.5H630.7"/>
<path class="k" d="M590,478.5V475H626.7V478.5M590,486.8V483.3H608.3V486.8"/>
<g class="st" text-anchor="middle"><text x="608.3" y="476.8">*</text><text x="599.2" y="485">*</text></g>
<g class="cg" text-anchor="end">
<text transform="translate(592.7,562.5) rotate(-45)">Veh</text>
<text transform="translate(611,562.5) rotate(-45)">FEXO+Anti-PD-1/CTLA-4</text>
<text transform="translate(629.4,562.5) rotate(-45)">Anti-VISTA/PD-1/CTLA-4</text>
</g>
</svg>
</body></html>
